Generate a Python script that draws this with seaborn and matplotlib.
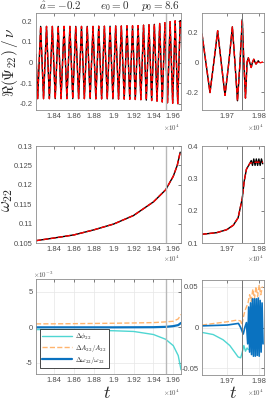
import numpy as np
import pandas as pd
import matplotlib
matplotlib.use('Agg')
import matplotlib.pyplot as plt
import seaborn as sns
from matplotlib.ticker import FuncFormatter

# ---------------- data ----------------
# Top-left: waveform extrema Re(Psi22)/nu
t_wave_left = [18215, 18232, 18262, 18291, 18321, 18350, 18380, 18409, 18439, 18468,
               18498, 18527, 18557, 18586, 18616, 18645, 18674, 18703, 18732, 18761,
               18790, 18819, 18848, 18877, 18905, 18934, 18962, 18991, 19019, 19048,
               19076, 19105, 19133, 19161, 19189, 19217, 19245, 19273, 19300, 19328,
               19355, 19382, 19409, 19436, 19463, 19489, 19516, 19542, 19568, 19594,
               19619, 19645, 19670, 19678]
psi_left = [0.04, -0.175, 0.175, -0.175, 0.175, -0.175, 0.175, -0.175, 0.175, -0.175,
            0.175, -0.175, 0.175, -0.175, 0.175, -0.175, 0.175, -0.175, 0.175, -0.175,
            0.175, -0.176, 0.176, -0.176, 0.176, -0.176, 0.176, -0.176, 0.177, -0.177,
            0.177, -0.177, 0.178, -0.178, 0.178, -0.179, 0.179, -0.180, 0.181, -0.182,
            0.183, -0.184, 0.185, -0.187, 0.189, -0.191, 0.193, -0.195, 0.198, -0.197,
            0.202, -0.199, 0.203, 0.17]

# Top-right: merger / ringdown
t_wave_right = [19621, 19633, 19646, 19658, 19670, 19681, 19693, 19705, 19716, 19724,
                19732, 19740, 19747, 19752, 19757, 19762, 19766, 19770, 19775, 19779,
                19783, 19787, 19790, 19794, 19797, 19800]
psi_right_black = [0.19, 0.0, -0.203, 0.0, 0.211, 0.0, -0.222, 0.0, 0.237, 0.0,
                   -0.258, 0.0, 0.287, 0.0, -0.24, 0.0, 0.03, 0.0, -0.035, 0.0,
                   0.02, 0.0, -0.012, 0.0, 0.01, 0.0]
t_wave_right_red = t_wave_right + [19804, 19808, 19812]
psi_right_red = psi_right_black + [-0.004, 0.0, 0.002]

# Middle-left: omega22
t_om_left = [18215, 18400, 18600, 18800, 19000, 19200, 19400, 19523, 19600, 19640, 19670]
om_left = [0.1056, 0.1063, 0.1071, 0.1084, 0.1099, 0.1121, 0.1156, 0.1187, 0.1222, 0.1250, 0.1284]

# Middle-right: omega22
t_om_right = [19621, 19667, 19698, 19719, 19734, 19747, 19753, 19760, 19771, 19775,
              19779, 19783, 19787, 19791, 19795, 19799, 19803, 19807, 19811]
om_right_black = [0.127, 0.132, 0.141, 0.155, 0.178, 0.238, 0.291, 0.328, 0.347, 0.355,
                  0.340, 0.360, 0.340, 0.360, 0.340, 0.360, 0.340, 0.360, 0.345]
t_om_right_red = [19621, 19667, 19698, 19719, 19734, 19747, 19753, 19760, 19771, 19790, 19812]
om_right_red = [0.127, 0.132, 0.141, 0.155, 0.178, 0.238, 0.291, 0.328, 0.347, 0.350, 0.350]

# Bottom-left: relative differences
t_diff_left = [18215, 18400, 18600, 18800, 19000, 19200, 19400, 19523, 19600, 19650, 19678]
dphi_left = [-0.33e-3, -0.36e-3, -0.40e-3, -0.45e-3, -0.50e-3, -0.60e-3, -1.03e-3,
             -1.7e-3, -2.6e-3, -4.0e-3, -6.0e-3]
dA_left = [0.47e-3, 0.48e-3, 0.50e-3, 0.53e-3, 0.56e-3, 0.60e-3, 0.65e-3,
           0.75e-3, 0.84e-3, 1.17e-3, 1.8e-3]
dom_left = [-0.02e-3, -0.02e-3, -0.02e-3, -0.02e-3, -0.02e-3, -0.01e-3, 0.0,
            0.05e-3, 0.15e-3, 0.30e-3, 0.60e-3]

# Bottom-right
t_dphi_right = [19621, 19656, 19687, 19708, 19723, 19734, 19742, 19747, 19752, 19757, 19762, 19766]
dphi_right = [-0.006, -0.0086, -0.015, -0.022, -0.030, -0.036, -0.037, -0.030, -0.022,
              -0.029, -0.025, -0.027]
t_dA_right = [19621, 19660, 19700, 19730, 19742, 19746, 19750, 19755, 19760, 19765, 19770,
              19775, 19780, 19785, 19790, 19795, 19800, 19805, 19810]
dA_right = [0.003, 0.005, 0.007, 0.009, 0.008, 0.003, 0.012, 0.02, 0.025, 0.03, 0.04,
            0.032, 0.047, 0.035, 0.05, 0.038, 0.052, 0.04, 0.05]
t_dom_right = [19621, 19700, 19735, 19742, 19746, 19750, 19755, 19760, 19764, 19767, 19770,
               19773, 19776, 19779, 19782, 19785, 19788, 19791, 19794, 19797, 19800,
               19803, 19806, 19809, 19812]
dom_right = [0.002, 0.003, 0.005, 0.0, -0.004, -0.008, 0.0, 0.006, -0.02, 0.025, -0.03,
             0.03, -0.033, 0.035, -0.035, 0.035, -0.035, 0.035, -0.034, 0.036, -0.035,
             0.033, -0.03, 0.03, -0.02]

t_peak_left = 19523
t_peak_right = 19747

# ---------------- figure ----------------
sns.set_theme(style='white')
plt.rcParams['font.family'] = ['Liberation Sans', 'DejaVu Sans']
plt.rcParams['mathtext.fontset'] = 'cm'
plt.rcParams['axes.unicode_minus'] = False

W, H = 266, 403
fig = plt.figure(figsize=(W / 100, H / 100), dpi=100)
fig.patch.set_facecolor('white')


def add_ax(l, t, r, b):
    return fig.add_axes([l / W, 1 - b / H, (r - l) / W, (b - t) / H])


def style(ax, xlim, xticks, ylim, yticks, yfmt, grid=False):
    ax.set_xlim(xlim)
    ax.set_ylim(ylim)
    ax.set_xticks(xticks)
    ax.set_yticks(yticks)
    ax.xaxis.set_major_formatter(FuncFormatter(lambda v, p: f'{v / 1e4:g}'))
    ax.yaxis.set_major_formatter(FuncFormatter(yfmt))
    ax.tick_params(direction='in', length=2, width=0.5, top=True, right=True,
                   labelsize=5.5, colors='0.3', pad=2.5)
    for s in ax.spines.values():
        s.set_color('0.55')
        s.set_linewidth(0.6)
    ax.set_xlabel('')
    ax.set_ylabel('')
    if grid:
        ax.grid(True, color='0.9', linewidth=0.5)
        ax.set_axisbelow(True)
    else:
        ax.grid(False)


def g(v, p):
    return f'{v:g}'


xl_left = (18215, 19678)
xt_left = [18400, 18600, 18800, 19000, 19200, 19400, 19600]
xl_right = (19621, 19815)
xt_right = [19700, 19800]

# Row 1
ax1 = add_ax(36, 13, 181, 110)
sns.lineplot(x=t_wave_left, y=psi_left, ax=ax1, color='black', lw=1.0, estimator=None)
sns.lineplot(x=t_wave_left, y=psi_left, ax=ax1, color='red', lw=1.0, ls='--', estimator=None)
ax1.axvline(t_peak_left, color='0.72', lw=1.0)
style(ax1, xl_left, xt_left, (-0.23, 0.24), [-0.2, -0.1, 0, 0.1, 0.2], g)

ax2 = add_ax(202, 13, 264, 110)
sns.lineplot(x=t_wave_right, y=psi_right_black, ax=ax2, color='black', lw=1.0, estimator=None)
sns.lineplot(x=t_wave_right_red, y=psi_right_red, ax=ax2, color='red', lw=1.0, ls='--', estimator=None)
ax2.axvline(t_peak_right, color='0.45', lw=0.7)
style(ax2, xl_right, xt_right, (-0.32, 0.33), [-0.2, 0, 0.2], g)

# Row 2
ax3 = add_ax(36, 146, 181, 243)
sns.lineplot(x=t_om_left, y=om_left, ax=ax3, color='black', lw=1.0, estimator=None)
sns.lineplot(x=t_om_left, y=om_left, ax=ax3, color='red', lw=1.0, ls='--', estimator=None)
ax3.axvline(t_peak_left, color='0.72', lw=1.0)
style(ax3, xl_left, xt_left, (0.105, 0.13), [0.105, 0.11, 0.115, 0.12, 0.125, 0.13], g)

ax4 = add_ax(202, 146, 264, 243)
sns.lineplot(x=t_om_right, y=om_right_black, ax=ax4, color='black', lw=1.0, estimator=None)
sns.lineplot(x=t_om_right_red, y=om_right_red, ax=ax4, color='red', lw=1.0, ls='--', estimator=None)
ax4.axvline(t_peak_right, color='0.45', lw=0.7)
style(ax4, xl_right, xt_right, (0.1, 0.4), [0.1, 0.2, 0.3, 0.4], g)

# Row 3
c_phi = '#4fd6d2'
c_A = '#ffb46e'
c_om = '#0a72c0'

ax5 = add_ax(36, 279, 181, 374)
sns.lineplot(x=t_diff_left, y=dphi_left, ax=ax5, color=c_phi, lw=1.0, estimator=None,
             label=r'$\Delta\phi_{22}$')
sns.lineplot(x=t_diff_left, y=dA_left, ax=ax5, color=c_A, lw=1.0, ls='--', estimator=None,
             label=r'$\Delta A_{22}/A_{22}$')
sns.lineplot(x=t_diff_left, y=dom_left, ax=ax5, color=c_om, lw=1.6, estimator=None,
             label=r'$\Delta\omega_{22}/\omega_{22}$')
ax5.axvline(t_peak_left, color='0.72', lw=1.0)
style(ax5, xl_left, xt_left, (-6.6e-3, 6.8e-3), [-5e-3, 0, 5e-3],
      lambda v, p: f'{v * 1e3:g}', grid=True)
leg = ax5.legend(loc='lower left', bbox_to_anchor=(0.02, 0.05), fontsize=5,
                 frameon=True, fancybox=False, edgecolor='black', framealpha=1,
                 handlelength=4.2, borderpad=0.3, labelspacing=0.15, handletextpad=0.5,
                 borderaxespad=0.2)
leg.get_frame().set_linewidth(0.5)

ax6 = add_ax(202, 280, 264, 375)
sns.lineplot(x=t_dphi_right, y=dphi_right, ax=ax6, color=c_phi, lw=1.0, estimator=None)
sns.lineplot(x=t_dA_right, y=dA_right, ax=ax6, color=c_A, lw=1.0, ls='--', estimator=None)
sns.lineplot(x=t_dom_right, y=dom_right, ax=ax6, color=c_om, lw=1.2, estimator=None)
ax6.axvline(t_peak_right, color='0.45', lw=0.7)
style(ax6, xl_right, xt_right, (-0.058, 0.058), [-0.05, 0, 0.05], g, grid=True)
if ax6.get_legend():
    ax6.get_legend().remove()

# ---------------- texts ----------------
def ftext(x, y, s, **kw):
    fig.text(x / W, 1 - y / H, s, **kw)

ftext(60, 6, r'$\hat{a}=-0.2$', fontsize=8, ha='center', va='center', color='0.2')
ftext(115, 6, r'$e_0=0$', fontsize=8, ha='center', va='center', color='0.2')
ftext(160, 6, r'$p_0=8.6$', fontsize=8, ha='center', va='center', color='0.2')

ftext(10, 62, r'$\Re(\Psi_{22})\,/\,\nu$', fontsize=11, rotation=90, ha='center', va='center')
ftext(8, 200, r'$\omega_{22}$', fontsize=12, rotation=90, ha='center', va='center')
ftext(107, 393, r'$t$', fontsize=13, ha='center', va='center')
ftext(233, 393, r'$t$', fontsize=13, ha='center', va='center')

for yy in (128, 259, 393):
    ftext(172, yy, r'$\times10^{4}$', fontsize=5, ha='center', va='center', color='0.3')
    ftext(256, yy, r'$\times10^{4}$', fontsize=5, ha='center', va='center', color='0.3')
ftext(43, 275, r'$\times10^{-3}$', fontsize=5, ha='center', va='center', color='0.3')

fig.savefig('out.png', dpi=100, facecolor='white')
